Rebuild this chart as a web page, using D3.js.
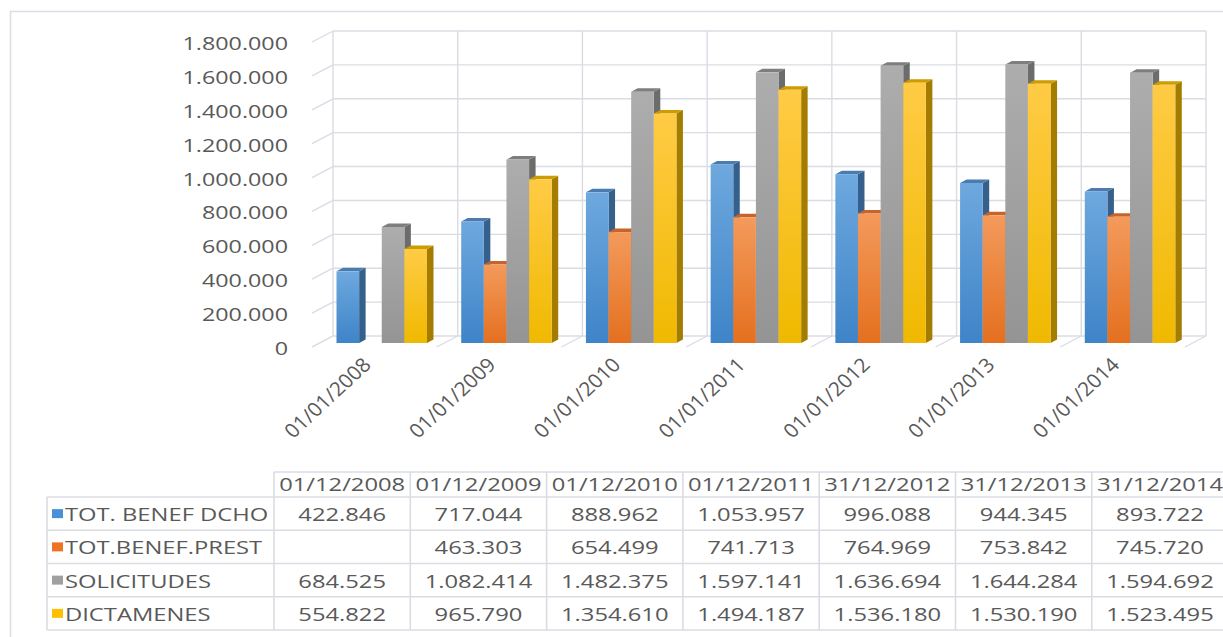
<!DOCTYPE html>
<html><head><meta charset="utf-8">
<script src="https://cdn.jsdelivr.net/npm/d3@7"></script>
<style>
html,body{margin:0;padding:0;background:#fff;}
svg{display:block;font-family:"Open Sans",sans-serif;}
</style></head>
<body><svg id="c" width="1223" height="637"></svg>
<script>
// ---- data ----
const categories = ["01/01/2008","01/01/2009","01/01/2010","01/01/2011","01/01/2012","01/01/2013","01/01/2014"];
const tableHeaders = ["01/12/2008","01/12/2009","01/12/2010","01/12/2011","31/12/2012","31/12/2013","31/12/2014"];
const seriesNames = ["TOT. BENEF DCHO","TOT.BENEF.PREST","SOLICITUDES","DICTAMENES"];
const benefDcho = [422846,717044,888962,1053957,996088,944345,893722];
const benefPrest = [null,463303,654499,741713,764969,753842,745720];
const solicitudes = [684525,1082414,1482375,1597141,1636694,1644284,1594692];
const dictamenes = [554822,965790,1354610,1494187,1536180,1530190,1523495];
const yTicks = [0,200000,400000,600000,800000,1000000,1200000,1400000,1600000,1800000];
const seriesValues = [benefDcho, benefPrest, solicitudes, dictamenes];
const seriesColors = [
  {top:"#6EA8DE", bot:"#3E84C8", side:"#35608C", cap:"#4A7CB0", key:"#4A90D9"},
  {top:"#F39A5C", bot:"#E4701F", side:"#AE5218", cap:"#C8632A", key:"#F07324"},
  {top:"#ADADAD", bot:"#949494", side:"#6C6C6C", cap:"#7E7E7E", key:"#A0A0A0"},
  {top:"#FFCB45", bot:"#F0B900", side:"#A47D00", cap:"#CC9C00", key:"#FFC000"}
];

const svg = d3.select("#c");
const es = d3.formatLocale({decimal:",", thousands:".", grouping:[3], currency:["",""]});
const fmt = es.format(",.0f");
const SX = 1.25; // horizontal stretch of all text

// defs gradients
const defs = svg.append("defs");
seriesColors.forEach((c,i)=>{
  const g = defs.append("linearGradient").attr("id","g"+i).attr("x1",0).attr("y1",0).attr("x2",0).attr("y2",1);
  g.append("stop").attr("offset","0%").attr("stop-color",c.top);
  g.append("stop").attr("offset","100%").attr("stop-color",c.bot);
});

// outer border
svg.append("rect").attr("x",10.5).attr("y",11.5).attr("width",1400).attr("height",800)
  .attr("fill","none").attr("stroke","#DCDDE6").attr("stroke-width",1.5);

// ---- 3D geometry ----
const yBack = d3.scaleLinear().domain([0,1800000]).range([336,31]);
const xBack = d3.scaleBand().domain(categories).range([333,1206]);
const DX = 21, DY = -11;          // front -> back
const BFX = -13.5, BFY = 7;       // bar front face relative to back wall
const BDX = 6.5, BDY = -3.5;      // bar depth
const xInner = d3.scaleBand().domain(seriesNames).range([17, 107.5]);
const gridColor = "#DADCE4";

const grid = svg.append("g").attr("stroke",gridColor).attr("stroke-width",1.4).attr("fill","none");
yTicks.forEach(t=>{
  const y = yBack(t);
  grid.append("line").attr("x1",xBack.range()[0]).attr("x2",xBack.range()[1]).attr("y1",y).attr("y2",y);
  grid.append("line").attr("x1",xBack.range()[0]-DX).attr("y1",y-DY).attr("x2",xBack.range()[0]).attr("y2",y);
});
const bounds = categories.map(c=>xBack(c)).concat([xBack.range()[1]]);
bounds.forEach(x=>{
  grid.append("line").attr("x1",x).attr("x2",x).attr("y1",yBack(0)).attr("y2",yBack(1800000));
  grid.append("line").attr("x1",x-DX).attr("y1",yBack(0)-DY).attr("x2",x).attr("y2",yBack(0));
});

// bars
const bars = svg.append("g");
categories.forEach((c,i)=>{
  seriesNames.forEach((s,j)=>{
    const v = seriesValues[j][i];
    if (v == null) return;
    const x0 = xBack(c) + BFX + xInner(s), w = xInner.bandwidth();
    const yT = yBack(v) + BFY, yB = yBack(0) + BFY;
    const col = seriesColors[j];
    bars.append("polygon").attr("points",[[x0+w,yT],[x0+w+BDX,yT+BDY],[x0+w+BDX,yB+BDY],[x0+w,yB]].map(p=>p.join(",")).join(" "))
      .attr("fill",col.side);
    bars.append("polygon").attr("points",[[x0,yT],[x0+BDX,yT+BDY],[x0+w+BDX,yT+BDY],[x0+w,yT]].map(p=>p.join(",")).join(" "))
      .attr("fill",col.cap);
    bars.append("rect").attr("x",x0).attr("y",yT).attr("width",w).attr("height",yB-yT).attr("fill","url(#g"+j+")");
  });
});

// y labels
const yl = svg.append("g").attr("fill","#595959").attr("font-size",18.5);
yTicks.forEach(t=>{
  yl.append("g").attr("transform",`translate(288,${yBack(t)-DY+1}) scale(1.26,1)`)
    .append("text").attr("text-anchor","end").attr("dominant-baseline","central").text(fmt(t));
});

// x labels
const xl = svg.append("g").attr("fill","#595959").attr("font-size",19.5);
categories.forEach(c=>{
  const cx = xBack(c) - DX + xBack.bandwidth()/2;
  xl.append("g").attr("transform",`translate(${cx-2},${yBack(0)-DY+19}) scale(1.08,1) rotate(-45)`)
    .append("text").attr("text-anchor","end").text(c);
});

// ---- data table ----
const colX = d3.scaleBand().domain(tableHeaders).range([274, 274+136.3*7]);
const rowY = d3.scaleBand().domain(seriesNames).range([497, 630]);
const headTop = 472, leftX = 47;
const tl = svg.append("g").attr("stroke",gridColor).attr("stroke-width",1.6);
tl.append("line").attr("x1",colX.range()[0]).attr("x2",1300).attr("y1",headTop).attr("y2",headTop);
rowY.domain().forEach(r=>{
  tl.append("line").attr("x1",leftX).attr("x2",1300).attr("y1",rowY(r)).attr("y2",rowY(r));
});
tl.append("line").attr("x1",leftX).attr("x2",1300).attr("y1",rowY.range()[1]).attr("y2",rowY.range()[1]);
tl.append("line").attr("x1",leftX).attr("x2",leftX).attr("y1",rowY.range()[0]).attr("y2",rowY.range()[1]);
tableHeaders.forEach(h=>{
  tl.append("line").attr("x1",colX(h)).attr("x2",colX(h)).attr("y1",headTop).attr("y2",rowY.range()[1]);
});
tl.append("line").attr("x1",colX.range()[1]).attr("x2",colX.range()[1]).attr("y1",headTop).attr("y2",rowY.range()[1]);

const tt = svg.append("g").attr("fill","#595959").attr("font-size",19);
function stretchedText(x, y, anchor, str){
  tt.append("g").attr("transform",`translate(${x},${y}) scale(${SX},1)`)
    .append("text").attr("text-anchor",anchor).attr("dominant-baseline","central").text(str);
}
tableHeaders.forEach(h=>{
  stretchedText(colX(h)+colX.bandwidth()/2, (headTop+rowY.range()[0])/2-1, "middle", h);
});
seriesNames.forEach((s,j)=>{
  const cy = rowY(s)+rowY.bandwidth()/2;
  tt.append("rect").attr("x",52).attr("y",cy-4.5).attr("width",11).attr("height",9).attr("fill",seriesColors[j].key);
  stretchedText(65, cy, "start", s);
  tableHeaders.forEach((h,i)=>{
    const v = seriesValues[j][i];
    if (v == null) return;
    stretchedText(colX(h)+colX.bandwidth()/2, cy, "middle", fmt(v));
  });
});
</script></body></html>
